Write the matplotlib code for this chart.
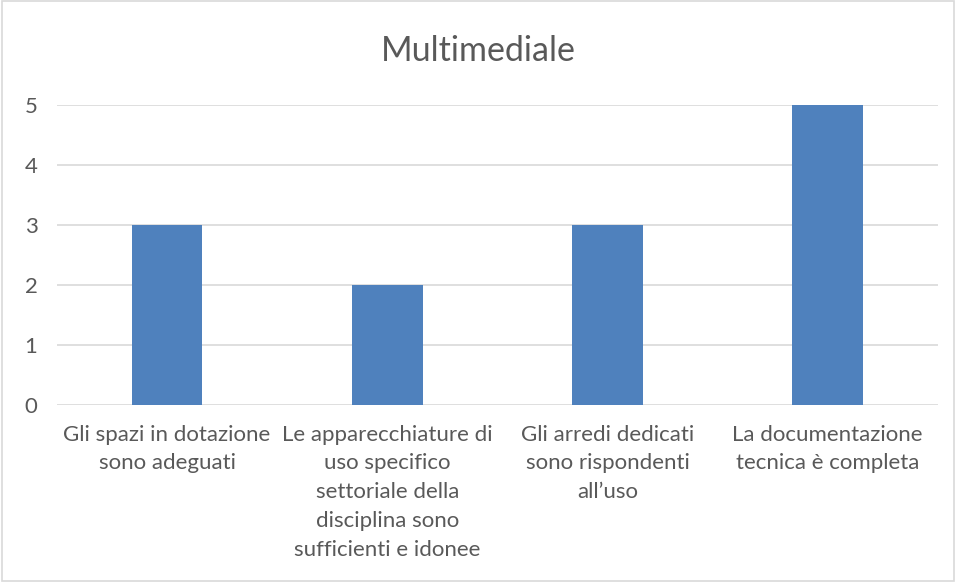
import matplotlib.pyplot as plt
from matplotlib.patches import Rectangle

categories = [
    "Gli spazi in dotazione\nsono adeguati",
    "Le apparecchiature di\nuso specifico\nsettoriale della\ndisciplina sono\nsufficienti e idonee",
    "Gli arredi dedicati\nsono rispondenti\nall\u2019uso",
    "La documentazione\ntecnica è completa",
]
values = [3, 2, 3, 5]
yticks = [0, 1, 2, 3, 4, 5]

plt.rcParams["font.family"] = ["Lato", "DejaVu Sans"]
text_color = "#595959"

fig = plt.figure(figsize=(9.56, 5.82), dpi=100)
ax = fig.add_axes([0.0596, 0.304, 0.9214, 0.5156])

x = range(len(values))
ax.bar(x, values, width=0.32, color="#4F81BD", zorder=3)

ax.set_xlim(-0.5, len(values) - 0.5)
ax.set_ylim(0, 5)
ax.set_yticks(yticks)
ax.set_xticks(list(x))
ax.set_xticklabels(categories, fontsize=16, color=text_color, linespacing=1.56)
ax.tick_params(axis="y", labelsize=16, labelcolor=text_color, length=0, pad=14)
ax.tick_params(axis="x", length=0, pad=14)
ax.yaxis.grid(True, color="#D9D9D9", linewidth=1.2, zorder=0)
for s in ax.spines.values():
    s.set_visible(False)

fig.text(0.5, 0.912, "Multimediale", ha="center", va="center",
         fontsize=24.5, color=text_color)

fig.patches.append(Rectangle((0.002, 0.002), 0.996, 0.996, transform=fig.transFigure,
                             fill=False, edgecolor="#D9D9D9", linewidth=1.2))

fig.savefig("out.png", dpi=100)
